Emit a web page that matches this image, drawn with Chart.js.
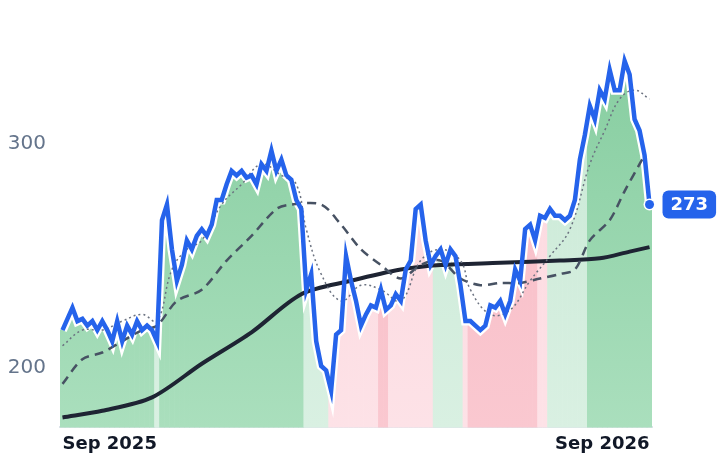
<!DOCTYPE html>
<html><head><meta charset="utf-8">
<script src="https://cdn.jsdelivr.net/npm/chart.js@4"></script>
<style>html,body{margin:0;padding:0;background:#fff}#w{width:718px;height:464px}</style>
</head><body><div id="w"><canvas id="c"></canvas></div>
<script>
const tickLabels = ["Sep 2025", "Sep 2026"];
const price = [217,222,227,221,222,219,221,217,221,217,212,221,212,219,215,221,217,219,217,212,
266,273,253,239,246,257,253,259,262,259,264,275,275,282,288,286,288,285,286,282,
291,288,297,288,293,286,284,275,271,235,242,212,201,199,190,215,217,250,239,230,
219,224,228,227,235,226,228,233,230,244,248,271,273,257,246,250,253,246,253,250,
237,221,221,219,217,219,228,227,230,224,230,244,239,262,264,257,268,267,271,268,
268,266,268,275,293,304,317,311,324,320,333,324,324,337,331,311,306,295,273];
const regime = []; // 0 green, 1 light green, 2 light pink, 3 pink
const regimeRuns = [[0,18,0],[19,19,1],[20,48,0],[49,53,1],[54,63,2],[64,65,3],[66,74,2],[75,80,1],[81,81,2],[82,95,3],[96,97,2],[98,105,1],[106,118,0]];
const maLong = [[0,178],[8,181],[18,187],[28,202],[38,216],[48,233],[58,239],[68,244],[76,246],[88,247],[100,248],[108,249],[114,252],[118,254]];
const maMid = [[0,193],[4,204],[8,207],[12,212],[16,217],[19,219],[23,230],[28,235],[33,248],[38,259],[43,271],[46,273],[52,273],[56,264],[60,253],[64,246],[68,240],[72,246],[76,248],[80,240],[84,237],[88,238],[92,238],[96,240],[100,242],[103,244],[106,257],[110,266],[113,279],[116,291],[117,295]];
const maShort = [[0,210],[4,217],[8,217],[12,221],[16,224],[19,221],[22,244],[25,253],[28,257],[32,273],[36,282],[40,291],[44,286],[47,282],[49,262],[52,242],[56,230],[60,237],[64,235],[68,230],[72,248],[76,253],[80,248],[82,235],[86,224],[90,226],[94,239],[98,250],[102,262],[106,291],[109,306],[112,320],[115,324],[118,320]];

regimeRuns.forEach(([a,b,r])=>{for(let i=a;i<=b;i++)regime[i]=r;});
const N = price.length;
const pts = price.map((v,i)=>({x:i,y:v}));
const toPts = a => a.map(([x,y])=>({x,y}));

function barColor(ctx){
  const r = regime[ctx.dataIndex];
  const ch = ctx.chart, ca = ch.chartArea;
  if(!ca) return '#8fd3a6';
  const stops = [['#84cc9e','#aadfbd'],['#c6e8d3','#d9f0e2'],['#fcd5dc','#fde2e7'],['#f7b9c4','#fac8d0']][r];
  const g = ch.ctx.createLinearGradient(0,ca.top,0,ca.bottom);
  g.addColorStop(0,stops[0]); g.addColorStop(1,stops[1]);
  return g;
}

const endLabel = {
  id:'endLabel',
  afterDatasetsDraw(chart){
    const x = chart.scales.x.getPixelForValue(N-1), y = chart.scales.y.getPixelForValue(price[N-1]);
    const c = chart.ctx; c.save();
    c.beginPath(); c.arc(x,y,6,0,Math.PI*2); c.fillStyle='#fff'; c.fill();
    c.beginPath(); c.arc(x,y,4.5,0,Math.PI*2); c.fillStyle='#2563eb'; c.fill();
    const t = String(price[N-1]);
    c.font = 'bold 18px "DejaVu Sans"';
    const w = c.measureText(t).width + 16, bx = x+13, h = 28;
    c.fillStyle='#2563eb'; c.beginPath(); c.roundRect(bx,y-h/2,w,h,6); c.fill();
    c.fillStyle='#fff'; c.textAlign='left'; c.textBaseline='middle'; c.fillText(t,bx+8,y+1);
    c.restore();
  }
};

new Chart(document.getElementById('c'),{
  data:{datasets:[
    {type:'line',data:pts,borderColor:'#2563eb',borderWidth:4.5,pointRadius:0,tension:0,order:1},
    {type:'line',data:pts,borderColor:'#ffffff',borderWidth:9,pointRadius:0,tension:0,order:5},
    {type:'line',data:toPts(maShort),borderColor:'#6b7280',borderWidth:1.5,borderDash:[2,3],pointRadius:0,tension:0.4,order:2},
    {type:'line',data:toPts(maMid),borderColor:'#475263',borderWidth:2.5,borderDash:[9,6],pointRadius:0,tension:0.3,order:3},
    {type:'line',data:toPts(maLong),borderColor:'#1e2433',borderWidth:4,pointRadius:0,tension:0.3,order:4},
    {type:'bar',data:pts,backgroundColor:barColor,barPercentage:1,categoryPercentage:1,borderWidth:0,order:6}
  ]},
  options:{
    responsive:true,maintainAspectRatio:false,animation:false,
    layout:{padding:{left:0,right:66,top:0,bottom:3}},
    plugins:{legend:{display:false},tooltip:{enabled:false}},
    scales:{
      x:{type:'linear',min:-0.5,max:N-0.5,offset:false,
        grid:{display:false,drawTicks:false},border:{color:'#dde3ea',width:2},
        afterBuildTicks:s=>{s.ticks=[{value:0},{value:N-1}];},
        ticks:{align:'inner',maxRotation:0,color:'#111827',padding:6,font:{family:'"DejaVu Sans"',size:18,weight:'bold'},
          callback:(v)=>v===0?tickLabels[0]:tickLabels[1]}},
      y:{min:173.6,max:352.6,grid:{display:false,drawTicks:false},border:{display:false},
        afterBuildTicks:s=>{s.ticks=[{value:200},{value:300}];},
        afterFit:s=>{s.width=60;},
        ticks:{color:'#64748b',padding:14,font:{family:'"DejaVu Sans"',size:20}}}
    }
  },
  plugins:[endLabel]
});
</script></body></html>
